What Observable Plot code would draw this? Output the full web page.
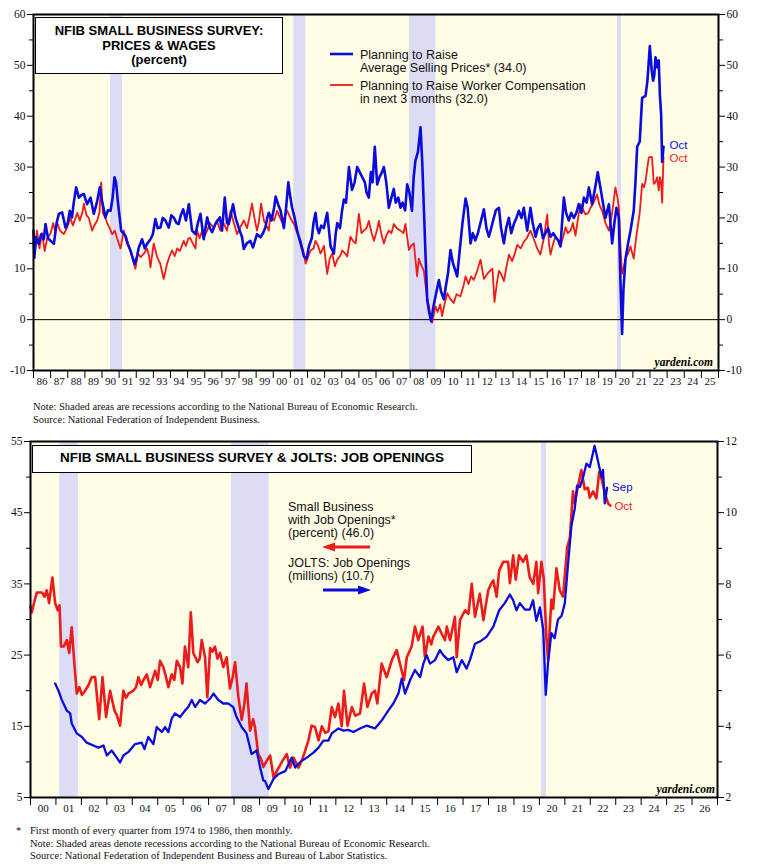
<!DOCTYPE html>
<html><head><meta charset="utf-8">
<script src="https://cdn.jsdelivr.net/npm/d3@7"></script>
<script src="https://cdn.jsdelivr.net/npm/@observablehq/plot@0.6"></script>
<style>
body{margin:0;background:#fff;}
#wrap{position:relative;width:757px;height:867px;overflow:hidden;background:#fff;}
.pl{position:absolute;left:0;}
.title{position:absolute;background:#fff;border:1.5px solid #000;font:bold 13px/14.5px "Liberation Sans",Arial,sans-serif;text-align:center;color:#000;box-sizing:border-box;}
.leg{position:absolute;font:12.5px/12.5px "Liberation Sans",Arial,sans-serif;color:#111;white-space:nowrap;}
.note{position:absolute;font:10.5px/12.5px "Liberation Serif","Times New Roman",serif;color:#111;white-space:nowrap;}
.yard{position:absolute;font:italic bold 11.5px/12px "Liberation Serif","Times New Roman",serif;color:#000;white-space:nowrap;}
#deco{position:absolute;left:0;top:0;pointer-events:none;}
</style>
</head><body>
<div id="wrap">
  <div id="top" class="pl" style="top:0"></div>
  <div id="bot" class="pl" style="top:427px"></div>
</div>
<script>
// ---------- DATA ----------
// Top panel: NFIB % planning to raise average selling prices, [year, value]
const pricePlans = [[1986.0,17.5],[1986.05,12.2],[1986.15,16.2],[1986.3,14.9],[1986.45,16.8],[1986.6,15.8],[1986.7,18.8],[1986.85,16],[1987.0,15.5],[1987.19,14.9],[1987.35,19],[1987.48,20.8],[1987.67,21.1],[1987.87,18.1],[1988.0,19],[1988.12,21.4],[1988.25,20.1],[1988.35,23],[1988.49,26],[1988.65,24],[1988.8,24.5],[1988.94,24.7],[1989.13,22.7],[1989.33,24],[1989.52,20.8],[1989.7,23],[1989.87,26],[1990.0,23.4],[1990.2,20.1],[1990.35,21.5],[1990.5,21.4],[1990.62,24],[1990.73,28],[1990.82,27],[1990.92,23.4],[1991.12,17.5],[1991.37,16.5],[1991.5,15],[1991.66,13.6],[1991.9,10.9],[1992.05,12.5],[1992.15,14.2],[1992.34,15.8],[1992.5,14],[1992.63,14.9],[1992.83,15.8],[1992.97,16.8],[1993.12,19.8],[1993.25,18],[1993.41,18.1],[1993.55,20],[1993.7,19.5],[1993.9,18.1],[1994.05,20.5],[1994.19,20.1],[1994.35,19],[1994.48,18.8],[1994.6,20.5],[1994.74,21.7],[1994.9,19.5],[1995.07,22.7],[1995.26,17.5],[1995.46,16.8],[1995.6,19],[1995.75,20.8],[1995.94,15.8],[1996.14,20.1],[1996.3,18],[1996.43,17.2],[1996.62,18.8],[1996.75,19.5],[1996.88,20.1],[1997.01,17.5],[1997.17,24],[1997.3,19],[1997.4,18.8],[1997.55,21],[1997.65,22.7],[1997.8,20],[1997.98,18.1],[1998.18,16.2],[1998.28,13.9],[1998.45,15],[1998.66,15.5],[1998.82,14.2],[1999.05,16.8],[1999.25,16.2],[1999.4,17],[1999.54,18.1],[1999.65,20],[1999.74,21],[1999.9,19.5],[2000.05,22],[2000.14,24.2],[2000.3,22.5],[2000.43,21.4],[2000.62,18],[2000.75,22],[2000.88,27],[2001.0,24],[2001.1,22],[2001.25,20],[2001.4,17.4],[2001.6,15],[2001.8,12.4],[2001.95,12],[2002.08,14.4],[2002.25,16],[2002.35,19],[2002.47,21],[2002.57,18],[2002.67,17],[2002.8,18.5],[2002.95,18],[2003.15,21],[2003.35,14.4],[2003.54,13],[2003.65,17],[2003.74,19],[2003.9,18],[2004.0,21],[2004.12,23.6],[2004.25,23],[2004.42,30],[2004.6,25.5],[2004.75,27],[2004.9,30],[2005.05,29],[2005.2,28],[2005.35,27],[2005.45,25],[2005.58,24],[2005.7,29],[2005.8,27],[2005.93,34],[2006.07,26.6],[2006.2,28],[2006.35,29],[2006.46,30],[2006.6,27],[2006.75,22],[2006.9,24],[2007.04,25.7],[2007.15,23],[2007.3,24],[2007.43,22],[2007.55,23],[2007.7,21.5],[2007.82,26.6],[2007.95,25],[2008.1,21.4],[2008.2,28],[2008.3,31.2],[2008.45,33],[2008.6,37.8],[2008.7,31],[2008.8,21.4],[2008.9,12],[2008.99,4],[2009.1,1.5],[2009.22,-0.3],[2009.35,2.5],[2009.5,5],[2009.67,7.8],[2009.8,5.5],[2009.96,4],[2010.1,7],[2010.2,9],[2010.35,13.7],[2010.5,11],[2010.6,10],[2010.74,8.5],[2010.9,14],[2011.05,19],[2011.23,23.8],[2011.35,22],[2011.52,15],[2011.65,17],[2011.8,15.6],[2011.95,17],[2012.1,19],[2012.3,21.7],[2012.45,18],[2012.59,16.3],[2012.69,17.5],[2012.88,20],[2013.0,21.5],[2013.18,22],[2013.3,18],[2013.47,15],[2013.6,18],[2013.76,20],[2013.9,17],[2014.05,18.8],[2014.2,20],[2014.34,21.4],[2014.5,20],[2014.63,22],[2014.83,17.5],[2015.02,22],[2015.15,19],[2015.32,16.3],[2015.45,18],[2015.6,18.8],[2015.75,16],[2015.9,17],[2016.05,18],[2016.19,16.3],[2016.35,17],[2016.48,16.3],[2016.65,15.5],[2016.77,14.4],[2016.97,24],[2017.1,21],[2017.26,19.5],[2017.4,21],[2017.55,20],[2017.7,21],[2017.84,22.7],[2018.0,21],[2018.14,24],[2018.3,23],[2018.43,26],[2018.62,22.7],[2018.8,26],[2018.95,29],[2019.05,27],[2019.2,24],[2019.4,20],[2019.6,22.7],[2019.79,15],[2019.92,19],[2020.04,22],[2020.18,20],[2020.27,8],[2020.37,-2.8],[2020.45,6],[2020.57,12],[2020.72,15],[2020.86,17.5],[2021.05,21.4],[2021.15,27],[2021.25,34],[2021.4,35],[2021.54,43.6],[2021.74,44],[2021.85,47],[2021.99,53.8],[2022.1,49],[2022.18,47],[2022.25,48],[2022.32,51.6],[2022.42,49.6],[2022.51,51],[2022.58,44],[2022.65,40.4],[2022.71,31],[2022.79,34]];

// Top panel: NFIB % planning to raise worker compensation, [year, value]
const compPlans = [[1986.0,17],[1986.1,14],[1986.2,17.5],[1986.35,14],[1986.5,17],[1986.65,13.5],[1986.8,16],[1987.0,17],[1987.15,19],[1987.25,17.5],[1987.38,19],[1987.55,17.5],[1987.77,16.8],[1987.95,18],[1988.16,20],[1988.3,18.5],[1988.45,20],[1988.55,21],[1988.7,19.5],[1988.85,21],[1988.94,22.8],[1989.1,20.5],[1989.23,20],[1989.42,17.5],[1989.55,18.5],[1989.72,19.5],[1989.85,21],[1989.95,27],[1990.05,21],[1990.2,20],[1990.3,19],[1990.45,18],[1990.59,16.8],[1990.75,17.5],[1990.88,16],[1991.08,14],[1991.27,17.5],[1991.45,15],[1991.66,13.6],[1991.8,12],[1991.95,10],[1992.1,13],[1992.25,12.3],[1992.45,13],[1992.63,14],[1992.75,12.5],[1992.83,10.3],[1993.02,15],[1993.22,12.3],[1993.4,11],[1993.6,8],[1993.8,11],[1993.95,12.5],[1994.09,13.6],[1994.25,12.5],[1994.39,14],[1994.55,13.5],[1994.77,15.5],[1994.9,14.5],[1995.05,16],[1995.16,16],[1995.3,15],[1995.46,14],[1995.55,17.5],[1995.7,16],[1995.85,17.5],[1996.0,16.5],[1996.14,17.5],[1996.3,19],[1996.53,18],[1996.7,19.5],[1996.91,17.5],[1997.1,19],[1997.3,17.5],[1997.5,21.4],[1997.7,19],[1997.89,16.8],[1998.05,18],[1998.28,19.5],[1998.47,18],[1998.6,20],[1998.76,22.8],[1998.9,20],[1999.05,17.5],[1999.15,19],[1999.29,22.8],[1999.46,19.4],[1999.54,19],[1999.74,17.5],[1999.84,20.7],[2000.05,19.5],[2000.23,21.4],[2000.4,20],[2000.53,19],[2000.7,20.5],[2000.82,21.4],[2001.0,20],[2001.21,18.8],[2001.4,17],[2001.6,15.5],[2001.75,13.5],[2001.89,11],[2002.05,12.5],[2002.18,13.6],[2002.35,14],[2002.47,15.5],[2002.62,14.5],[2002.76,13],[2002.96,14.5],[2003.15,9],[2003.3,12],[2003.44,13],[2003.6,10.5],[2003.74,11.8],[2003.9,12.5],[2004.03,13.6],[2004.2,13],[2004.32,12.4],[2004.51,16.3],[2004.65,15.5],[2004.81,15],[2005.0,20.8],[2005.15,17],[2005.29,17.5],[2005.45,18],[2005.58,19.4],[2005.75,17],[2005.88,15.5],[2006.05,17.5],[2006.17,19.4],[2006.3,17],[2006.46,15],[2006.6,16.5],[2006.75,17.5],[2006.9,17],[2007.04,18.8],[2007.2,18],[2007.43,17.5],[2007.6,17],[2007.72,18.8],[2007.92,13.7],[2008.05,14.5],[2008.21,15],[2008.3,12],[2008.4,8.5],[2008.5,12],[2008.6,11],[2008.79,9.7],[2008.99,4],[2009.15,1.5],[2009.28,-0.6],[2009.47,2.6],[2009.6,1.5],[2009.75,3],[2009.86,0.7],[2010.0,3],[2010.16,5.2],[2010.35,4],[2010.54,3.3],[2010.7,5],[2010.93,4.6],[2011.1,6.5],[2011.23,8.5],[2011.4,7],[2011.55,8.5],[2011.71,7.8],[2011.9,9.5],[2012.1,11.8],[2012.3,8],[2012.5,9],[2012.68,9.7],[2012.8,10],[2012.92,3.5],[2013.05,7],[2013.18,9.6],[2013.3,9],[2013.47,7.6],[2013.6,10],[2013.76,12.8],[2013.95,11.5],[2014.1,13],[2014.25,14.7],[2014.45,14],[2014.63,15.3],[2014.8,16],[2015.02,17.5],[2015.2,16],[2015.41,14],[2015.6,12.8],[2015.8,16],[2016.0,20.7],[2016.1,15],[2016.19,12.8],[2016.35,15],[2016.48,16.3],[2016.65,15.5],[2016.77,14.4],[2016.95,16.5],[2017.07,18.2],[2017.2,17],[2017.36,17.5],[2017.5,19],[2017.65,16.5],[2017.8,20],[2017.94,22.7],[2018.1,21.5],[2018.23,20.7],[2018.4,21],[2018.53,22],[2018.7,23],[2018.91,24.6],[2019.05,22.5],[2019.21,21.4],[2019.4,19],[2019.6,17.5],[2019.79,21],[2019.98,26],[2020.1,24],[2020.18,22],[2020.28,14],[2020.37,9],[2020.45,10],[2020.57,12],[2020.72,13],[2020.86,14.4],[2021.05,12],[2021.15,15],[2021.25,17.5],[2021.4,21],[2021.54,26.7],[2021.65,26],[2021.74,27.3],[2021.85,30],[2021.93,31.9],[2022.05,32],[2022.12,31.9],[2022.22,26.7],[2022.32,27],[2022.42,28],[2022.51,25.4],[2022.58,28],[2022.65,27],[2022.71,23],[2022.79,32]];

// Bottom panel: NFIB % with job openings (left axis), [year, value]
const nfibJobOpenings = [[2000.0,31.8],[2000.05,31],[2000.15,32.5],[2000.25,33.8],[2000.45,33.8],[2000.55,33.2],[2000.64,34.1],[2000.73,32.3],[2000.86,35.9],[2000.97,32.3],[2001.07,31.3],[2001.14,32],[2001.2,26.2],[2001.3,26.2],[2001.43,27.1],[2001.52,25.3],[2001.62,28.9],[2001.72,24],[2001.82,19.6],[2001.92,20.5],[2002.02,19.4],[2002.15,20],[2002.28,20.8],[2002.41,21.9],[2002.54,21.9],[2002.7,16],[2002.83,21.9],[2002.97,16.3],[2003.13,20],[2003.3,17.2],[2003.4,16.5],[2003.52,15.1],[2003.65,20],[2003.75,19],[2003.85,19.6],[2004.04,20],[2004.15,20.5],[2004.24,21.9],[2004.35,20.8],[2004.44,21.5],[2004.57,22.3],[2004.7,20.5],[2004.9,22.8],[2005.0,21.5],[2005.09,24.2],[2005.22,23.3],[2005.32,22],[2005.42,20.5],[2005.55,22.3],[2005.65,21.5],[2005.75,24.2],[2005.88,23.3],[2005.97,21],[2006.07,26.2],[2006.2,23.3],[2006.3,31],[2006.4,25.3],[2006.57,24],[2006.65,24.5],[2006.73,27.1],[2006.86,24.7],[2006.95,19.1],[2007.06,26],[2007.15,25.5],[2007.25,26.2],[2007.35,24.5],[2007.45,25.3],[2007.58,23.3],[2007.71,24.7],[2007.84,20.3],[2007.95,22],[2008.04,24],[2008.17,19.1],[2008.3,15.9],[2008.4,18],[2008.49,21],[2008.63,14.4],[2008.75,16],[2008.82,14.9],[2008.95,11.1],[2009.05,10.5],[2009.15,9.3],[2009.29,10.2],[2009.42,10.9],[2009.55,7.8],[2009.68,8.7],[2009.88,10],[2010.07,11.1],[2010.2,9.2],[2010.34,10.6],[2010.53,9.2],[2010.66,10.2],[2010.79,11.5],[2010.92,13],[2011.05,15.1],[2011.18,14.9],[2011.32,13],[2011.45,15],[2011.58,14.1],[2011.71,14.3],[2011.84,17.7],[2011.97,16.3],[2012.1,18.2],[2012.23,15],[2012.32,20],[2012.46,15.1],[2012.63,17.7],[2012.76,16.5],[2012.95,16.8],[2013.11,21],[2013.24,17.7],[2013.41,19.6],[2013.54,20],[2013.63,18.2],[2013.8,23.8],[2014.0,21.9],[2014.2,24.3],[2014.39,25.7],[2014.52,23.8],[2014.68,21.5],[2014.79,24.7],[2014.98,26.2],[2015.11,29],[2015.24,27.1],[2015.41,29],[2015.5,24.7],[2015.64,27.6],[2015.75,26.5],[2015.83,27.6],[2016.03,29],[2016.16,28],[2016.29,27.1],[2016.36,29],[2016.49,27.1],[2016.68,30.4],[2016.75,24.7],[2016.88,29.9],[2017.08,31.3],[2017.21,30.8],[2017.34,35],[2017.47,30.4],[2017.66,33.6],[2017.8,29.9],[2017.99,34.1],[2018.1,35],[2018.19,35.5],[2018.32,33.2],[2018.42,36.9],[2018.5,37.5],[2018.58,38.1],[2018.77,38.1],[2018.84,35.1],[2018.97,39],[2019.07,35.6],[2019.2,39],[2019.36,38.1],[2019.49,39],[2019.62,35.9],[2019.76,35],[2019.88,38.1],[2019.95,33.7],[2020.08,38.1],[2020.17,35.8],[2020.28,27.2],[2020.34,24.4],[2020.47,32.8],[2020.54,31.5],[2020.67,37.2],[2020.8,34.1],[2020.93,33.2],[2021.09,40.1],[2021.2,41.5],[2021.32,48],[2021.39,46.3],[2021.52,48.8],[2021.65,51],[2021.78,48.3],[2021.91,48.5],[2021.98,47.1],[2022.11,48],[2022.24,47],[2022.35,50.7],[2022.44,49.8],[2022.57,47.8],[2022.7,46.3],[2022.79,46]];

// Bottom panel: JOLTS job openings, millions (right axis), [year, value]
const joltsOpenings = [[2000.97,5.2],[2001.1,5.0],[2001.23,4.74],[2001.43,4.44],[2001.56,4.36],[2001.62,4.08],[2001.82,3.8],[2002.02,3.7],[2002.21,3.54],[2002.47,3.46],[2002.67,3.4],[2002.87,3.46],[2003.0,3.18],[2003.19,3.32],[2003.39,3.12],[2003.52,2.98],[2003.65,3.18],[2003.85,3.28],[2004.11,3.5],[2004.37,3.54],[2004.48,3.36],[2004.63,3.7],[2004.83,3.5],[2004.96,3.98],[2005.16,3.84],[2005.29,3.98],[2005.42,3.84],[2005.55,4.22],[2005.68,4.36],[2005.88,4.26],[2006.07,4.44],[2006.2,4.54],[2006.34,4.74],[2006.47,4.54],[2006.66,4.74],[2006.86,4.64],[2007.06,4.78],[2007.19,4.92],[2007.38,4.74],[2007.58,4.64],[2007.77,4.64],[2007.97,4.54],[2008.1,4.26],[2008.3,3.98],[2008.49,3.8],[2008.69,3.22],[2008.89,3.32],[2009.02,2.86],[2009.15,2.48],[2009.22,2.46],[2009.35,2.24],[2009.55,2.52],[2009.75,2.66],[2010.01,2.74],[2010.27,3.12],[2010.4,2.84],[2010.6,3.0],[2010.86,3.12],[2011.12,3.26],[2011.32,3.4],[2011.51,3.6],[2011.71,3.6],[2011.84,3.8],[2012.1,3.94],[2012.3,3.88],[2012.49,3.9],[2012.69,3.84],[2012.95,3.94],[2013.21,4.02],[2013.54,3.94],[2013.8,4.16],[2014.06,4.44],[2014.26,4.64],[2014.46,4.92],[2014.59,5.34],[2014.72,4.92],[2014.92,5.3],[2015.11,5.58],[2015.31,5.38],[2015.44,5.76],[2015.57,6.0],[2015.7,5.76],[2015.9,5.86],[2016.09,6.14],[2016.22,6.0],[2016.42,5.86],[2016.62,5.94],[2016.75,5.52],[2016.95,5.86],[2017.14,5.62],[2017.27,5.86],[2017.47,6.32],[2017.66,6.38],[2017.93,6.52],[2018.19,6.8],[2018.42,7.26],[2018.64,7.46],[2018.84,7.7],[2018.97,7.54],[2019.1,7.26],[2019.23,7.46],[2019.43,7.28],[2019.62,7.28],[2019.75,7.54],[2019.88,6.96],[2020.02,7.34],[2020.15,6.72],[2020.25,4.88],[2020.34,5.78],[2020.47,6.62],[2020.6,6.48],[2020.73,7.0],[2020.87,7.1],[2021.0,7.46],[2021.13,8.6],[2021.26,9.64],[2021.39,10.12],[2021.48,10.76],[2021.59,10.72],[2021.72,11.0],[2021.85,11.38],[2021.98,11.28],[2022.17,11.88],[2022.3,11.46],[2022.44,11.0],[2022.5,11.2],[2022.57,10.26],[2022.66,10.7]];

// Recessions (NBER), [start, end] in decimal years
const recessionsTop = [[1990.5,1991.2],[2001.2,2001.9],[2007.95,2009.5],[2020.1,2020.33]];
const recessionsBottom = [[2001.15,2001.88],[2007.9,2009.38],[2020.08,2020.28]];

// Ticks
const topYTicks = [-10,0,10,20,30,40,50,60];
const topYMinor = [-5,5,15,25,35,45,55];
const topYearLabels = [1986,1987,1988,1989,1990,1991,1992,1993,1994,1995,1996,1997,1998,1999,2000,2001,2002,2003,2004,2005,2006,2007,2008,2009,2010,2011,2012,2013,2014,2015,2016,2017,2018,2019,2020,2021,2022,2023,2024,2025];
const botLeftTicks = [5,15,25,35,45,55];
const botLeftMinor = [10,20,30,40,50];
const botRightTicks = [2,4,6,8,10,12];
const botRightMinor = [3,5,7,9,11];
const botYearLabels = [2000,2001,2002,2003,2004,2005,2006,2007,2008,2009,2010,2011,2012,2013,2014,2015,2016,2017,2018,2019,2020,2021,2022,2023,2024,2025,2026];

// ---------- STYLE ----------
const BG = "#fffde6", REC = "#dcdcf6", BLUE = "#0b0bdc", RED = "#ee1b1b";
const SERIF = "Liberation Serif";
const SANS = "Liberation Sans";
const yy = d => String(Math.floor(d) % 100).padStart(2, "0");
const num = d => String(d);
const X = d => d[0], Y = d => d[1];
const AX = {fontFamily: SERIF, fill: "#111", label: null};

// ---------- TOP PANEL ----------
const topEdges = topYearLabels.concat([topYearLabels[topYearLabels.length-1] + 1]);
const topPlot = Plot.plot({
  width: 757, height: 395,
  marginTop: 14, marginBottom: 25, marginLeft: 33, marginRight: 39,
  x: {domain: [1986, 2026]},
  y: {domain: [-10, 60]},
  style: {background: "transparent", fontFamily: SERIF, color: "#000", overflow: "visible"},
  marks: [
    Plot.frame({fill: BG, stroke: "none"}),
    Plot.rect(recessionsTop, {x1: X, x2: Y, y1: () => -10, y2: () => 60, fill: REC}),
    Plot.ruleY([0], {stroke: "#000", strokeWidth: 1}),
    Plot.line(compPlans, {x: X, y: Y, stroke: RED, strokeWidth: 1.8}),
    Plot.line(pricePlans, {x: X, y: Y, stroke: BLUE, strokeWidth: 2.6}),
    Plot.text([pricePlans[pricePlans.length-1]], {x: X, y: Y, text: () => "Oct", dx: 6, dy: -1, textAnchor: "start", fill: BLUE, fontFamily: SANS, fontSize: 11.5}),
    Plot.text([compPlans[compPlans.length-1]], {x: X, y: Y, text: () => "Oct", dx: 6, dy: 1, textAnchor: "start", fill: RED, fontFamily: SANS, fontSize: 11.5}),
    Plot.frame({stroke: "#000", strokeWidth: 2}),
    Plot.axisY({...AX, anchor: "left", ticks: topYTicks, tickSize: 6, tickPadding: 2, fontSize: 11.5, tickFormat: num}),
    Plot.axisY({...AX, anchor: "left", ticks: topYMinor, tickSize: 4, tickFormat: () => ""}),
    Plot.axisY({...AX, anchor: "right", ticks: topYTicks, tickSize: 6, tickPadding: 2, fontSize: 11.5, tickFormat: num}),
    Plot.axisY({...AX, anchor: "right", ticks: topYMinor, tickSize: 4, tickFormat: () => ""}),
    Plot.axisX({...AX, anchor: "bottom", ticks: topEdges, tickSize: 8, tickFormat: () => ""}),
    Plot.axisX({...AX, anchor: "bottom", ticks: topYearLabels.map(y => y + 0.5), tickSize: 0, tickPadding: 7, tickFormat: yy, fontSize: 11})
  ]
});
document.getElementById("top").appendChild(topPlot);

// ---------- BOTTOM PANEL ----------
const joltsToLeft = m => 5 * m - 5; // right axis (millions) aligned to left axis (percent)
const botEdges = botYearLabels.concat([botYearLabels[botYearLabels.length-1] + 1]);
const botPlot = Plot.plot({
  width: 757, height: 395,
  marginTop: 14, marginBottom: 25, marginLeft: 30, marginRight: 40,
  x: {domain: [2000, 2027]},
  y: {domain: [5, 55]},
  style: {background: "transparent", fontFamily: SERIF, color: "#000", overflow: "visible"},
  marks: [
    Plot.frame({fill: BG, stroke: "none"}),
    Plot.rect(recessionsBottom, {x1: X, x2: Y, y1: () => 5, y2: () => 55, fill: REC}),
    Plot.line(nfibJobOpenings, {x: X, y: Y, stroke: RED, strokeWidth: 2.6}),
    Plot.line(joltsOpenings, {x: X, y: d => joltsToLeft(d[1]), stroke: BLUE, strokeWidth: 2.3}),
    Plot.text([joltsOpenings[joltsOpenings.length-1]], {x: X, y: d => joltsToLeft(d[1]), text: () => "Sep", dx: 5, textAnchor: "start", fill: BLUE, fontFamily: SANS, fontSize: 11.5}),
    Plot.text([nfibJobOpenings[nfibJobOpenings.length-1]], {x: X, y: Y, text: () => "Oct", dx: 4, dy: 1, textAnchor: "start", fill: RED, fontFamily: SANS, fontSize: 11.5}),
    Plot.frame({stroke: "#000", strokeWidth: 2}),
    Plot.axisY({...AX, anchor: "left", ticks: botLeftTicks, tickSize: 6, tickPadding: 2, fontSize: 11.5, tickFormat: num}),
    Plot.axisY({...AX, anchor: "left", ticks: botLeftMinor, tickSize: 4, tickFormat: () => ""}),
    Plot.axisY({...AX, anchor: "right", ticks: botRightTicks.map(joltsToLeft), tickSize: 6, tickPadding: 2, fontSize: 11.5, tickFormat: d => String((d + 5) / 5)}),
    Plot.axisY({...AX, anchor: "right", ticks: botRightMinor.map(joltsToLeft), tickSize: 4, tickFormat: () => ""}),
    Plot.axisX({...AX, anchor: "bottom", ticks: botEdges, tickSize: 8, tickFormat: () => ""}),
    Plot.axisX({...AX, anchor: "bottom", ticks: botYearLabels.map(y => y + 0.5), tickSize: 0, tickPadding: 7, tickFormat: yy, fontSize: 11})
  ]
});
document.getElementById("bot").appendChild(botPlot);

// ---------- OVERLAYS: titles, legends, notes ----------
const wrap = document.getElementById("wrap");
function add(html) { wrap.insertAdjacentHTML("beforeend", html); }

add(`<div class="title" style="left:35px;top:17px;width:248px;height:57px;padding-top:6px">NFIB SMALL BUSINESS SURVEY:<br>PRICES &amp; WAGES<br>(percent)</div>`);
add(`<div class="leg" style="left:360px;top:49px">Planning to Raise<br>Average Selling Prices* (34.0)</div>`);
add(`<div class="leg" style="left:360px;top:80px">Planning to Raise Worker Compensation<br>in next 3 months (32.0)</div>`);
add(`<div class="yard" style="right:44px;top:356px">yardeni.com</div>`);
add(`<div class="note" style="left:33px;top:401px">Note: Shaded areas are recessions according to the National Bureau of Economic Research.<br>Source: National Federation of Independent Business.</div>`);

add(`<div class="title" style="left:32px;top:445px;width:440px;height:28px;padding-top:5px;font-size:13.5px">NFIB SMALL BUSINESS SURVEY &amp; JOLTS: JOB OPENINGS</div>`);
add(`<div class="leg" style="left:288px;top:500.5px;line-height:13px">Small Business<br>with Job Openings*<br>(percent) (46.0)</div>`);
add(`<div class="leg" style="left:288px;top:556.5px;line-height:13px">JOLTS: Job Openings<br>(millions) (10.7)</div>`);
add(`<div class="yard" style="right:42px;top:783px">yardeni.com</div>`);
add(`<div class="note" style="left:16px;top:825px">*</div>`);
add(`<div class="note" style="left:30px;top:825px">First month of every quarter from 1974 to 1986, then monthly.<br>Note: Shaded areas denote recessions according to the National Bureau of Economic Research.<br>Source: National Federation of Independent Business and Bureau of Labor Statistics.</div>`);

// legend swatches and arrows
add(`<svg id="deco" width="757" height="867">
  <line x1="330" y1="54" x2="353" y2="54" stroke="${BLUE}" stroke-width="2.6"/>
  <line x1="330" y1="85" x2="353" y2="85" stroke="${RED}" stroke-width="1.8"/>
  <line x1="333" y1="547" x2="370" y2="547" stroke="${RED}" stroke-width="3"/>
  <polygon points="322,547 335,542.5 335,551.5" fill="${RED}"/>
  <line x1="323" y1="590" x2="360" y2="590" stroke="${BLUE}" stroke-width="3"/>
  <polygon points="371,590 358,585.5 358,594.5" fill="${BLUE}"/>
</svg>`);
</script>
</body></html>
